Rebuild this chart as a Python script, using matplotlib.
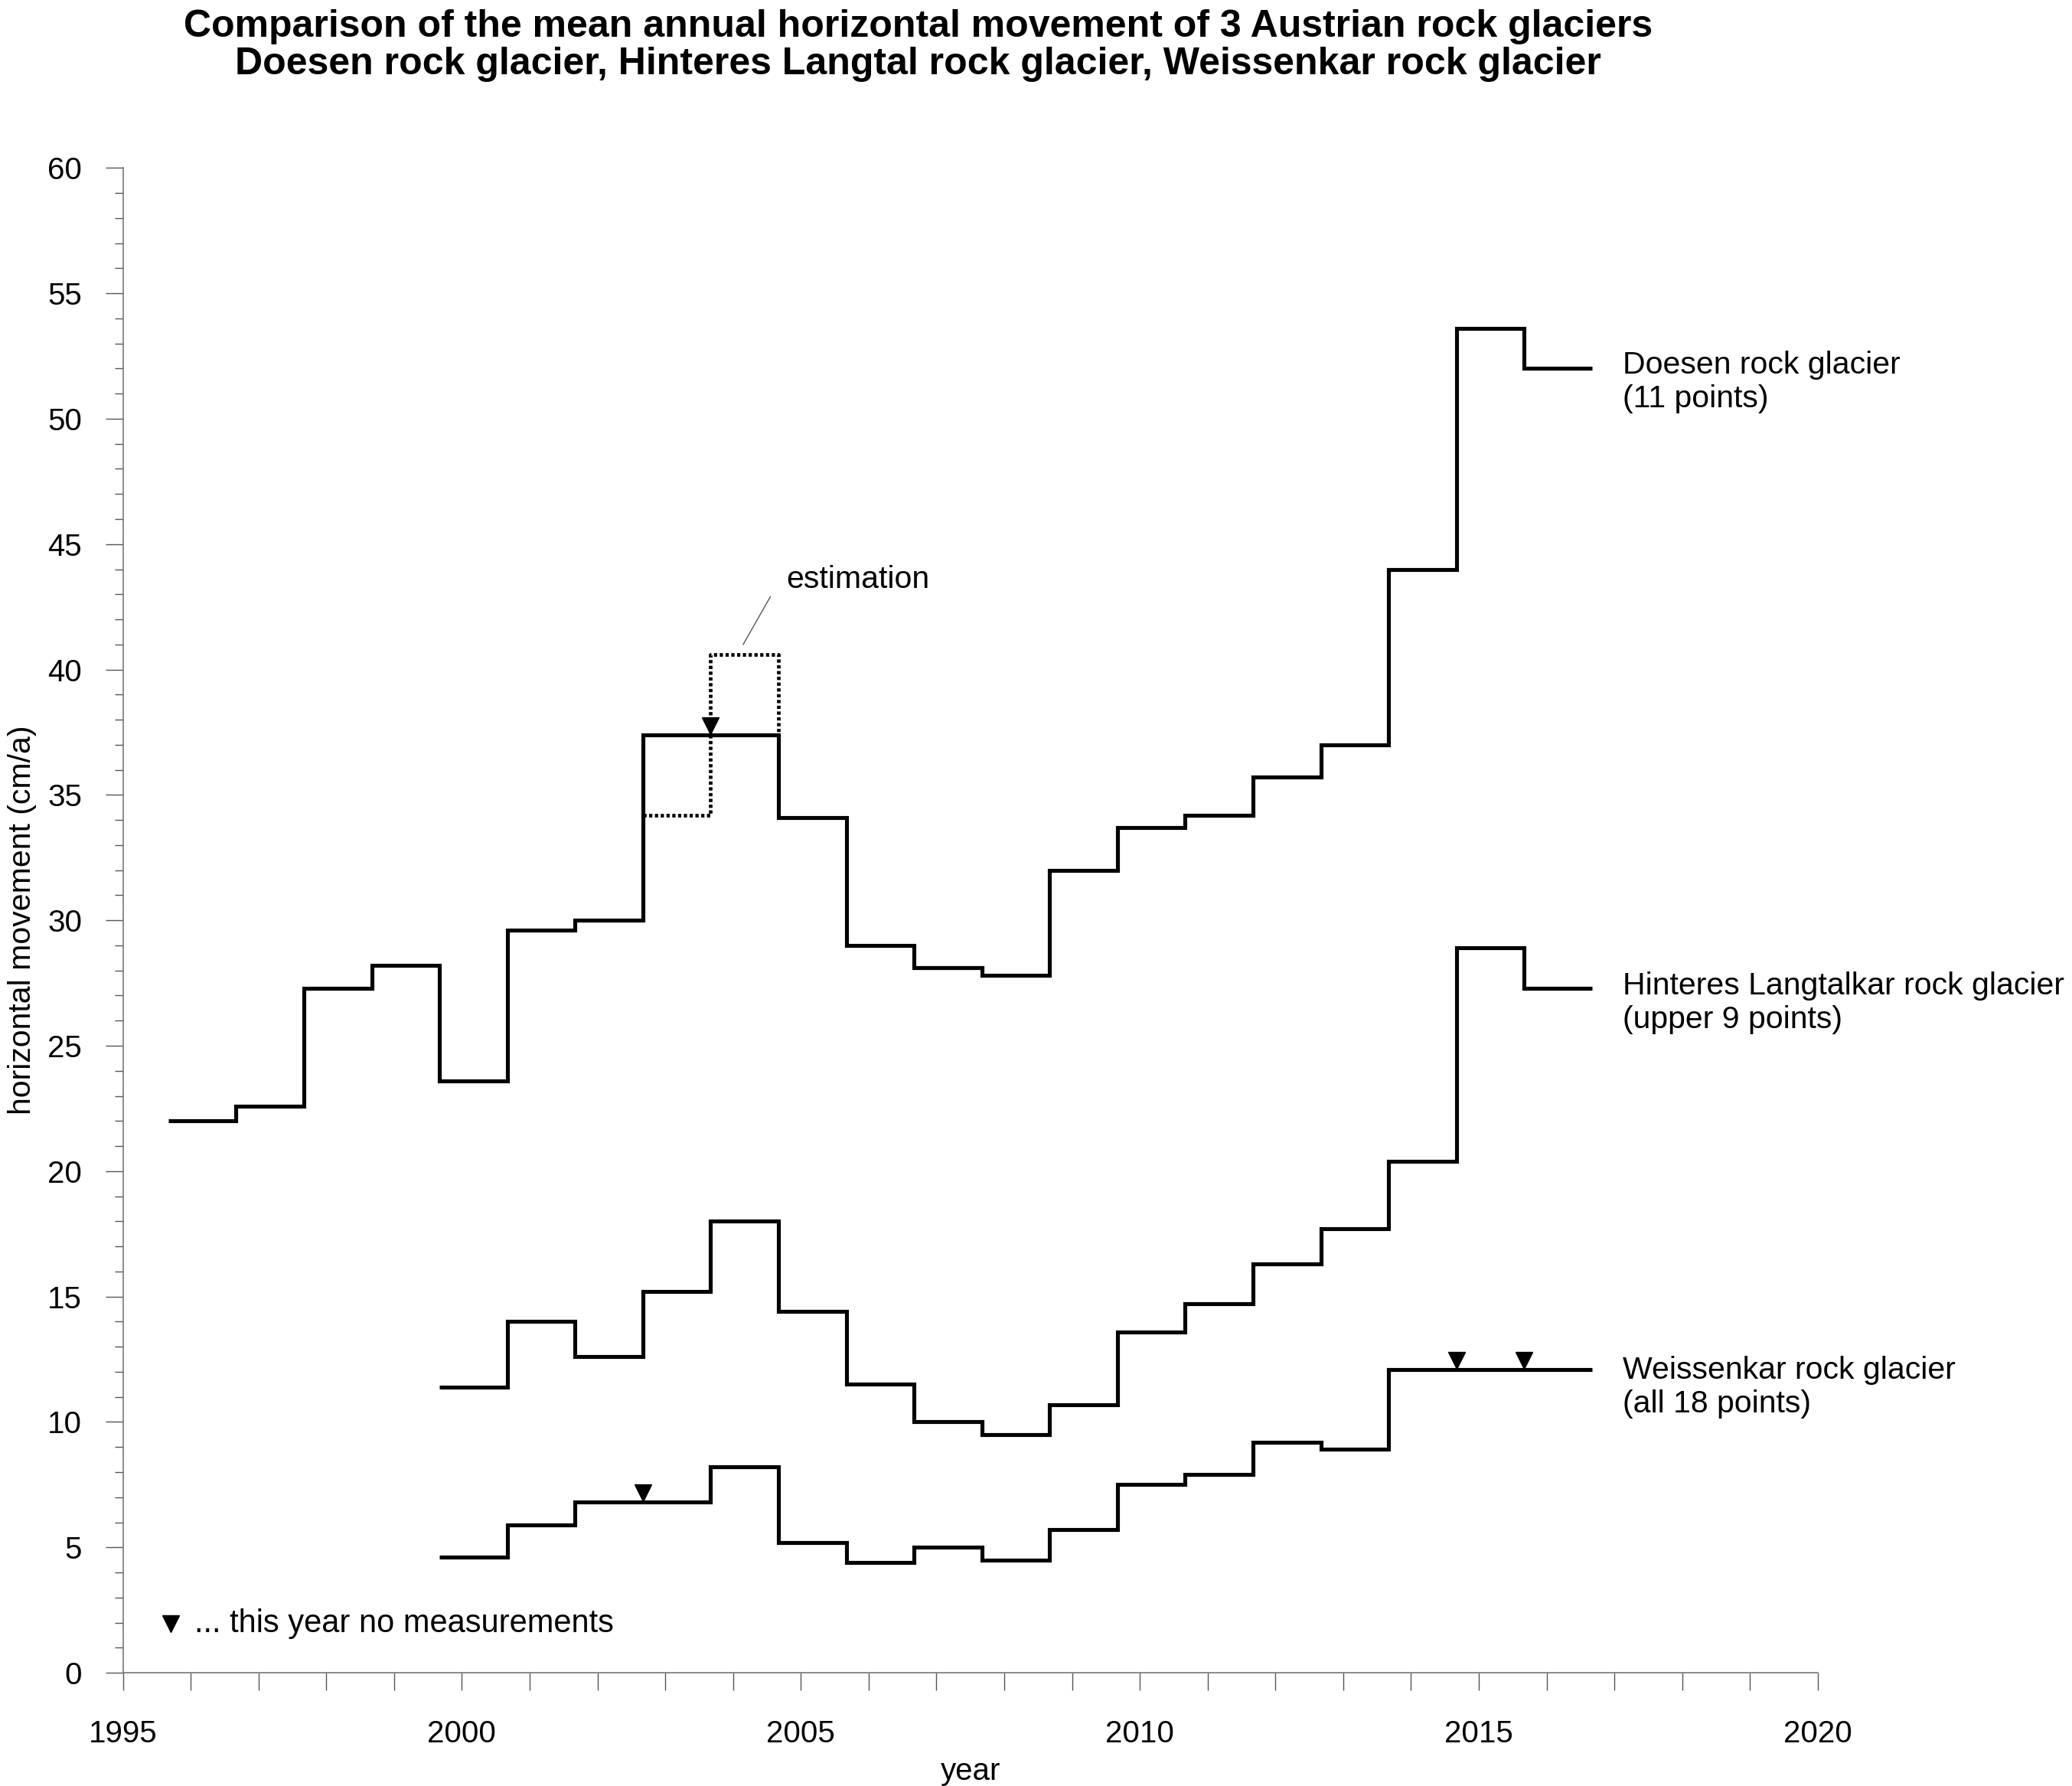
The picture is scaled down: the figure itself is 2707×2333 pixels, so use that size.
import numpy as np
import matplotlib.pyplot as plt
from matplotlib.transforms import offset_copy

plt.rcParams["font.family"] = ["Liberation Sans", "DejaVu Sans"]

# ---------------------------------------
# Data (mean annual horizontal movement, cm/a)
# ---------------------------------------

# measurement campaigns are in late summer -> fraction of year
campaign_offset = 0.67

doesen_years = list(range(1995, 2017))
doesen_values = [22.0, 22.6, 27.3, 28.2, 23.6, 29.6, 30.0, 37.4, 37.4, 34.1, 29.0,
                 28.1, 27.8, 32.0, 33.7, 34.2, 35.7, 37.0, 44.0, 53.6, 52.0]

doesen_est_years = [2002, 2003]
doesen_est_values = [34.2, 40.6]

langtal_years = list(range(1999, 2017))
langtal_values = [11.4, 14.0, 12.6, 15.2, 18.0, 14.4, 11.5, 10.0, 9.5, 10.7,
                  13.6, 14.7, 16.3, 17.7, 20.4, 28.9, 27.3]

weissenkar_years = list(range(1999, 2017))
weissenkar_values = [4.6, 5.9, 6.8, 6.8, 8.2, 5.2, 4.4, 5.0, 4.5, 5.7,
                     7.5, 7.9, 9.2, 8.9, 12.1, 12.1, 12.1]

# campaign years without measurements
doesen_missing = [2003]
weissenkar_missing = [2002, 2014, 2015]

labels = [
    ("Doesen rock glacier\n(11 points)", 51.45),
    ("Hinteres Langtalkar rock glacier\n(upper 9 points)", 26.7),
    ("Weissenkar rock glacier\n(all 18 points)", 11.4),
]

# ---------------------------------------
# Figure
# ---------------------------------------

fig = plt.figure(figsize=(27.07, 23.33), dpi=100)
ax = fig.add_axes([0.0593, 0.0634, 0.818, 0.8426])

line_kw = dict(color="black", linewidth=3.7, baseline=None, fill=False, joinstyle="miter")

series = [
    (doesen_years, doesen_values),
    (langtal_years, langtal_values),
    (weissenkar_years, weissenkar_values),
]

for yrs, vals in series:
    edges = np.array(yrs, dtype=float) + campaign_offset
    ax.stairs(vals, edges, **line_kw)

# estimation for the missing Doesen year
e0 = doesen_est_years[0] + campaign_offset
e1 = doesen_est_years[1] + campaign_offset
e2 = e1 + 1
back = doesen_values[doesen_years.index(doesen_est_years[1])]
ax.plot([e0, e1, e1, e2, e2],
        [doesen_est_values[0], doesen_est_values[0], doesen_est_values[1],
         doesen_est_values[1], back],
        color="black", linewidth=3.4, linestyle=(0, (0.9, 0.7)),
        dash_capstyle="butt", solid_joinstyle="miter")

ax.plot([2004.15, 2004.55], [41.0, 42.9], color="#555555", linewidth=1.0)
ax.text(2004.78, 43.6, "estimation", fontsize=29.5, va="center", ha="left")

# triangles: no measurement in this campaign year
tri_trans = offset_copy(ax.transData, fig=fig, y=8.5, units="points")
missing = [
    (doesen_missing, doesen_years, doesen_values),
    (weissenkar_missing, weissenkar_years, weissenkar_values),
]
for miss, yrs, vals in missing:
    for m in miss:
        x = m + campaign_offset
        y = vals[yrs.index(m)]
        ax.plot([x], [y], marker="v", markersize=16, color="black",
                linestyle="none", transform=tri_trans)

ax.plot([1995.7], [1.95], marker="v", markersize=16, color="black", linestyle="none")
ax.text(1996.05, 1.95, "... this year no measurements", fontsize=30, va="center", ha="left")

# series labels on the right
for text, yv in labels:
    ax.text(2017.12, yv, text, fontsize=29.5, va="center", ha="left", linespacing=1.2)

# ---------------------------------------
# Axes styling
# ---------------------------------------

ax.set_xlim(1995, 2020)
ax.set_ylim(0, 60)

ax.set_xticks(np.arange(1995, 2021, 5))
ax.set_xticks(np.arange(1995, 2021, 1), minor=True)
ax.set_yticks(np.arange(0, 61, 5))
ax.set_yticks(np.arange(0, 61, 1), minor=True)

for side in ["top", "right"]:
    ax.spines[side].set_visible(False)
for side in ["left", "bottom"]:
    ax.spines[side].set_color("#777777")
    ax.spines[side].set_linewidth(1.2)

ax.tick_params(axis="x", which="both", direction="out", length=16.5, width=1.0,
               color="#555555", labelsize=29, pad=27)
ax.tick_params(axis="y", which="major", direction="out", length=16.5, width=1.0,
               color="#555555", labelsize=29, pad=22)
ax.tick_params(axis="y", which="minor", direction="out", length=8, width=1.0,
               color="#555555")

ax.set_xlabel("year", fontsize=29)
ax.xaxis.set_label_coords(0.5, -0.056)
ax.set_ylabel("horizontal movement (cm/a)", fontsize=29.5)
ax.yaxis.set_label_coords(-0.051, 0.5)

fig.text(0.443, 0.995,
         "Comparison of the mean annual horizontal movement of 3 Austrian rock glaciers\n"
         "Doesen rock glacier, Hinteres Langtal rock glacier, Weissenkar rock glacier",
         fontsize=36, fontweight="bold", ha="center", va="top", linespacing=1.1)

plt.savefig("out.png", dpi=100)
plt.close()
